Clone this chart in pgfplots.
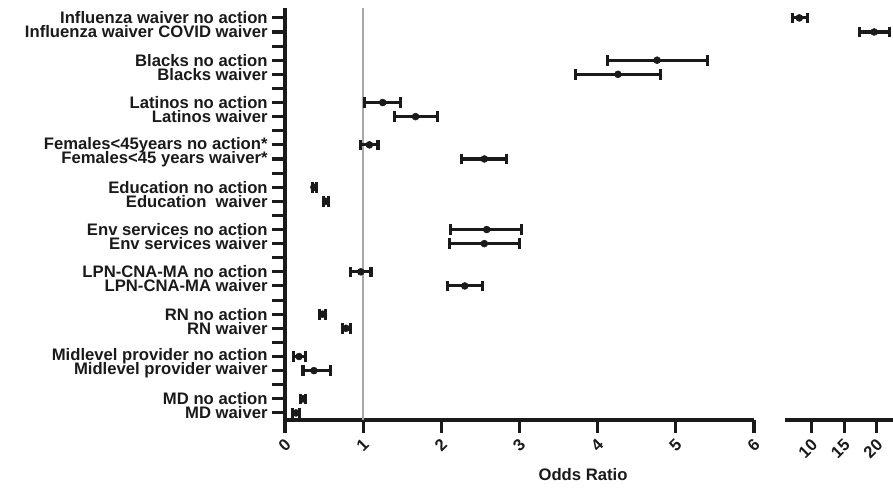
\documentclass[border=0pt]{standalone}
\usepackage{fontspec}
\setmainfont{Liberation Sans}
\usepackage{pgfplots}
\usepackage{pgfplotstable}
\pgfplotsset{compat=1.18}

\definecolor{ink}{HTML}{1A1A1A}
\definecolor{refline}{HTML}{A8A8A8}

% row  lower  OR  upper
\pgfplotstableread{
row lo or hi
26 4.12 4.76 5.40
25 3.72 4.26 4.80
23 1.02 1.25 1.48
22 1.40 1.67 1.95
20 0.96 1.08 1.19
19 2.26 2.55 2.83
17 0.35 0.37 0.40
16 0.49 0.52 0.56
14 2.12 2.58 3.03
13 2.10 2.55 3.00
11 0.84 0.97 1.10
10 2.08 2.30 2.53
8 0.44 0.48 0.52
7 0.73 0.78 0.84
5 0.11 0.18 0.26
4 0.23 0.37 0.58
2 0.20 0.23 0.26
1 0.09 0.14 0.18
}\lowdata

\pgfplotstableread{
row lo or hi
29 7.0 8.1 9.3
28 17.3 19.6 21.9
}\highdata

\pgfplotsset{
  forest/.style={
    scale only axis, anchor=south west,
    height=309pt, ymin=0.5, ymax=29.7,
    axis line style={line width=2.3pt, ink, -},
    tick align=outside, tick style={line width=2.3pt, ink},
    major tick length=9.5pt,
    /pgf/number format/assume math mode=true,
    ticklabel style={font=\bfseries\fontsize{12.5}{12.5}\selectfont, text=ink},
    xticklabel style={rotate=45, anchor=east, yshift=-6.5pt},
  },
  orbars/.style={
    only marks, mark=*, mark size=2.6pt, color=ink,
    error bars/.cd, x dir=both, x explicit,
    error bar style={line width=2.3pt, ink},
    error mark=|,
    error mark options={mark size=4pt, line width=2.3pt, ink},
  },
}

\begin{document}
\begin{tikzpicture}
\path[use as bounding box] (0,0) rectangle (669.75pt,365.25pt);

\begin{axis}[forest,
  at={(213.75pt,50.25pt)}, width=351.75pt,
  xmin=0, xmax=6,
  axis x line*=bottom, axis y line*=left,
  xtick={0,...,6},
  ytick={1,...,29},
  yticklabels={{MD waiver},{MD no action},{},
    {Midlevel provider waiver},{Midlevel provider no action},{},
    {RN waiver},{RN no action},{},
    {LPN-CNA-MA waiver},{LPN-CNA-MA no action},{},
    {Env services waiver},{Env services no action},{},
    {Education\ \ waiver},{Education no action},{},
    {Females<45 years waiver*},{Females<45years no action*},{},
    {Latinos waiver},{Latinos no action},{},
    {Blacks waiver},{Blacks no action},{},
    {Influenza waiver COVID waiver\ },{Influenza waiver no action}},
]
\draw[refline, line width=1.2pt] (axis cs:1,0.5) -- (axis cs:1,29.7);
\addplot[orbars] table[x=or, y=row,
  x error plus expr=\thisrow{hi}-\thisrow{or},
  x error minus expr=\thisrow{or}-\thisrow{lo}] \lowdata;
\draw[ink, line width=2.3pt] (axis cs:6,0.5) -- ++(0,5.5pt);
\end{axis}

\begin{axis}[forest,
  at={(588.75pt,50.25pt)}, width=81pt,
  xmin=5.9, xmax=22.5,
  axis x line*=bottom, axis y line=none,
  xtick={10,15,20},
]
\addplot[orbars] table[x=or, y=row,
  x error plus expr=\thisrow{hi}-\thisrow{or},
  x error minus expr=\thisrow{or}-\thisrow{lo}] \highdata;
\draw[ink, line width=2.3pt] (axis cs:5.9,0.5) ++(0,5.5pt) -- ++(0,-13pt);
\end{axis}

\node[font=\bfseries\fontsize{12.5}{14}\selectfont, text=ink] at (437.25pt,9pt) {Odds Ratio};
\end{tikzpicture}
\end{document}
